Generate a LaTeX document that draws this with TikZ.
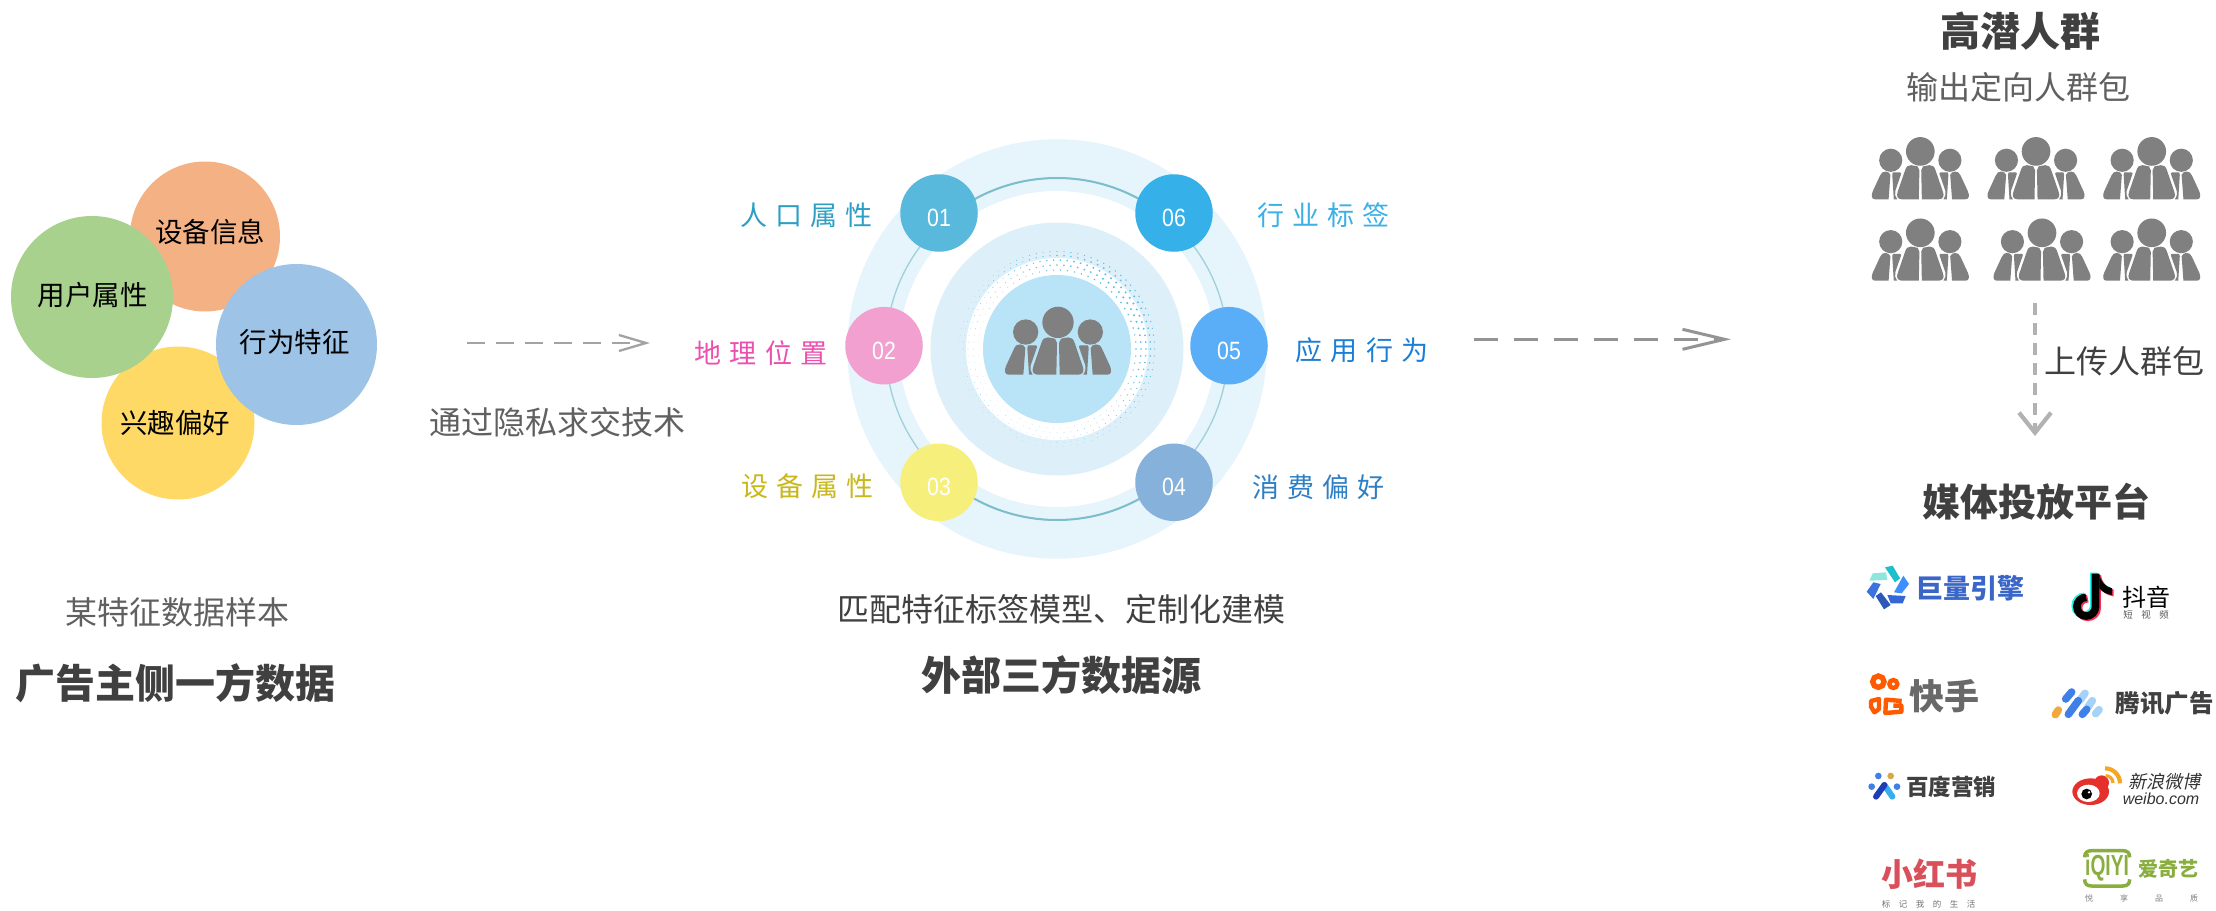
\documentclass[tikz,border=0pt]{standalone}
\usepackage{fontspec}
\usetikzlibrary{arrows.meta}
\setmainfont{Noto Sans CJK SC}
\newfontfamily\lsf[LetterSpace=30]{Noto Sans CJK SC}
\newfontfamily\numf{Liberation Sans}
\newfontfamily\cjkit[FakeSlant=0.22]{Noto Sans CJK SC}
\newcommand{\fsz}[1]{\fontsize{#1}{#1}\selectfont}
\definecolor{txtgray}{HTML}{606060}
\definecolor{txtdark}{HTML}{404040}
\definecolor{ppl}{HTML}{808080}
\definecolor{iqgreen}{HTML}{8AAE3E}
\definecolor{tcblue}{HTML}{3F7FE8}
\definecolor{tclight}{HTML}{A5D2F9}
\definecolor{ksorange}{HTML}{FF5A00}
\tikzset{
  bub/.style={circle,inner sep=0pt,minimum size=#1},
  lbl/.style={inner sep=0pt,text=black,font=\fsz{27.5}},
  subt/.style={inner sep=0pt,text=txtgray,font=\fsz{32}},
  headt/.style={inner sep=0pt,text=txtdark,font=\fsz{40}\bfseries},
  ringl/.style={inner sep=0pt,text=#1,font=\lsf\fsz{27}},
  numdisc/.style={circle,inner sep=0pt,minimum size=77.5pt,fill=#1},
  numt/.style={inner sep=0pt,text=white,font=\numf\fsz{25}},
  flow/.style={line width=#1},
  zoomat/.style 2 args={shift={(#1,#2)},x=0.3333pt,y=-0.3333pt},
  people/.pic={
    \fill[ppl] (0,-157) circle (47);
    \foreach \m in {1,-1}{
      \begin{scope}[xscale=\m]
      \fill[ppl] (97,-128) circle (38);
      \fill[ppl] (5,0) -- (60,0) .. controls (74,0) and (80,-10) .. (74,-25) -- (50,-95) .. controls (46,-108) and (40,-112) .. (30,-112) -- (9,-108) -- (3,-95) -- cycle;
      \fill[ppl] (104,0) -- (148,0) .. controls (160,0) and (162,-12) .. (156,-26) -- (132,-78) .. controls (128,-88) and (122,-91) .. (114,-91) -- (104,-88) -- (98,-80) -- cycle;
      \fill[ppl] (90,-88) -- (66,-88) .. controls (62,-86) and (62,-84) .. (64,-80) -- (82,-28) .. controls (85,-18) and (82,-8) .. (76,0) -- (87,0) -- (92,-80) -- cycle;
      \end{scope}
    }
  }
}
\begin{document}
\begin{tikzpicture}[x=1pt,y=-1pt]
\useasboundingbox (0,0) rectangle (2216,910);
\fill[white] (0,0) rectangle (2216,910);

% left cluster
\node[bub=150pt,fill={rgb,255:red,244;green,177;blue,131}] (dev) at (205,236.5) {};
\node[bub=153pt,fill={rgb,255:red,255;green,217;blue,102}] (int) at (178,423) {};
\node[bub=162pt,fill={rgb,255:red,169;green,209;blue,142}] (usr) at (92,297) {};
\node[bub=161pt,fill={rgb,255:red,157;green,195;blue,230}] (beh) at (296.5,344.5) {};
\node[lbl] (tdev) at (210,232) {设备信息};
\node[lbl] (tusr) at (92.6,294.6) {用户属性};
\node[lbl] (tbeh) at (294.6,342) {行为特征};
\node[lbl] (tint) at (175.4,423) {兴趣偏好};
\node[subt] (sample) at (177,612) {某特征数据样本};
\node[headt] (first) at (175,683) {广告主侧一方数据};
\node[subt] (psi) at (557,422) {通过隐私求交技术};

% arrows
\coordinate (a1s) at (467,343); \coordinate (a1e) at (650,343);
\draw[flow=2.3pt,draw=black!36,dash pattern=on 18pt off 11pt,-{Straight Barb[length=27pt,width=16pt]}] (a1s) -- (a1e);
\coordinate (a2s) at (1474,339.3); \coordinate (a2e) at (1731,339.3);
\draw[flow=3pt,draw=black!42,dash pattern=on 24pt off 16pt,-{Straight Barb[length=42pt,width=20pt]}] (a2s) -- (a2e);
\coordinate (a3s) at (2035,303); \coordinate (a3e) at (2035,436);
\draw[flow=4.2pt,draw=black!30,dash pattern=on 12pt off 8pt,-{Straight Barb[length=20pt,width=32pt]}] (a3s) -- (a3e);

% central rings
\coordinate (hub) at (1057,349);
\fill[fill={rgb,255:red,230;green,244;blue,251}] (hub) circle (209.7);
\draw[line width=1.3pt,draw={rgb,255:red,160;green,208;blue,218}] (hub) circle (171);
\draw[line width=2pt,draw={rgb,255:red,125;green,190;blue,205}] (hub) ++(235:171) arc (235:305:171);
\draw[line width=2pt,draw={rgb,255:red,125;green,190;blue,205}] (hub) ++(55:171) arc (55:125:171);
\fill[white] (hub) circle (158);
\fill[fill={rgb,255:red,221;green,240;blue,249}] (hub) circle (126.5);
\fill[white] (hub) circle (91);
\foreach \rad/\cnt/\fac in {79/70/0.8,84/76/1,89/82/1,93.5/84/0.9,97.5/88/0.7}{
  \foreach \k in {1,...,\cnt}{
    \pgfmathsetmacro\ang{\k/\cnt*360}
    \pgfmathsetmacro\wt{0.5+0.5*cos(\ang+40)}
    \pgfmathsetmacro\rr{\fac*(0.3+0.85*\wt*\wt)}
    \fill[fill={rgb,255:red,95;green,190;blue,228}] ([shift={(\ang:\rad)}]hub) circle (\rr);
  }
}
\fill[fill={rgb,255:red,185;green,227;blue,247}] (hub) circle (74);
\pic (mainppl) at (1058,374.7) [scale=0.3333] {people};

\foreach \id/\px/\py/\cc in {01/939/213/58B9DC,06/1174/213/36B0E8,02/884/345.7/F2A0D0,05/1229/345.7/5AAEF7,03/939/482.3/F7EF7B,04/1174/482.3/85B1DA}{
  \definecolor{cur}{HTML}{\cc}
  \node[numdisc=cur] (n\id) at (\px,\py) {};
  \node[numt] (t\id) at ([yshift=-5pt]n\id.center) {\scalebox{.85}[1]{\id}};
}
\definecolor{c1}{HTML}{2E9FC4}\definecolor{c2}{HTML}{EC4FAE}\definecolor{c3}{HTML}{C9B81C}
\definecolor{c4}{HTML}{2F7FC4}\definecolor{c5}{HTML}{1C7FD6}\definecolor{c6}{HTML}{3AB0E6}
\node[ringl=c1] (l1) at (806.5,215) {人口属性};
\node[ringl=c6] (l6) at (1323.5,215) {行业标签};
\node[ringl=c2] (l2) at (761,353) {地理位置};
\node[ringl=c5] (l5) at (1362,350) {应用行为};
\node[ringl=c3] (l3) at (807.5,486) {设备属性};
\node[ringl=c4] (l4) at (1318.5,487) {消费偏好};
\node[inner sep=0pt,text=txtdark,font=\fsz{32}] (model) at (1061,609) {匹配特征标签模型、定制化建模};
\node[headt] (third) at (1061,675) {外部三方数据源};

% right column
\node[headt] (high) at (2020,31) {高潜人群};
\node[subt] (out) at (2018.7,87) {输出定向人群包};
\foreach \nm/\px/\py in {p1/1920.3/199.3,p2/2036/199.3,p3/2151.7/199.3,p4/1920.3/280.7,p5/2042/280.7,p6/2151.7/280.7}{
  \pic (\nm) at (\px,\py) [scale=0.305] {people};
}
\node[inner sep=0pt,text=txtdark,font=\fsz{32}] (upl) at (2124,361) {上传人群包};
\node[inner sep=0pt,text=txtdark,font=\fsz{38}\bfseries] (media) at (2036.6,501.7) {媒体投放平台};

% ocean engine logo
\begin{scope}[zoomat={1860}{560}]
\fill[fill={rgb,255:red,142;green,230;blue,223}] (38,40)--(78,37)--(82,60)--(28,62)--cycle;
\fill[fill={rgb,255:red,28;green,192;blue,204}] (75,22)--(98,17)--(120,55)--(105,67)--cycle;
\fill[fill={rgb,255:red,61;green,143;blue,251}] (130,47)--(147,72)--(125,100)--(102,97)--cycle;
\fill[fill={rgb,255:red,51;green,102;blue,214}] (82,105)--(137,108)--(128,130)--(92,130)--cycle;
\fill[fill={rgb,255:red,45;green,88;blue,184}] (47,108)--(63,97)--(92,135)--(72,148)--cycle;
\fill[fill={rgb,255:red,58;green,114;blue,224}] (40,67)--(62,72)--(40,117)--(20,95)--cycle;
\end{scope}
\node[inner sep=0pt,text={rgb,255:red,58;green,102;blue,200},font=\fsz{27}\bfseries] (juliang) at (1970,588.3) {巨量引擎};

% douyin logo
\begin{scope}[zoomat={2060}{565}]
\foreach \dx/\dy/\cl in {-5/-3/{rgb,255:red,37;green,244;blue,238},5/4/{rgb,255:red,254;green,44;blue,85},0/0/black}{
  \begin{scope}[shift={(\dx*0.3333pt,-\dy*0.3333pt)}]
  \draw[line width=7.6pt,draw={\cl}] (106.5,26) -- (106.5,125) arc (0:270:28);
  \fill[fill={\cl}] (118,26) .. controls (121,50) and (136,65) .. (156,70) -- (156,90) .. controls (140,88) and (126,80) .. (118,70) -- cycle;
  \end{scope}
}
\end{scope}
\node[inner sep=0pt,text=black,font=\fsz{24}] (douyin) at (2146.7,597) {抖音};
\node[inner sep=0pt,text=black!65,font=\fsz{9.5}] (dysub) at (2146,615) {短\hspace{8.5pt}视\hspace{8.5pt}频};

% kuaishou logo
\begin{scope}[zoomat={1860}{665}]
\draw[line width=5.4pt,ksorange] (55,50) circle (17);
\draw[line width=4.4pt,ksorange] (100,57) circle (12);
\draw[line width=4.4pt,line join=round,ksorange] (33,108)--(57,102)--(57,132)--(43,142)--(33,125)--cycle;
\draw[line width=4.4pt,line join=round,ksorange] (125,108)--(78,104)--(76,144)--(124,140)--(124,122)--(100,122);
\end{scope}
\node[inner sep=0pt,text={rgb,255:red,105;green,105;blue,105},font=\fsz{35}\bfseries] (ks) at (1944,696.7) {快手};

% tencent logo
\begin{scope}[zoomat={2045}{680},line cap=round,line width=7.6pt]
\draw[draw={rgb,255:red,242;green,169;blue,59}] (31,104)--(40,90);
\draw[tclight] (105,60)--(120,40);
\draw[tclight] (128,82)--(142,62);
\draw[tclight] (152,101)--(162,89);
\draw[tcblue] (62,57)--(80,36);
\draw[tcblue] (70,103)--(100,62);
\draw[tcblue] (112,103)--(125,88);
\end{scope}
\node[inner sep=0pt,text=txtdark,font=\fsz{24.5}\bfseries] (tx) at (2164.5,703) {腾讯广告};

% baidu logo
\begin{scope}[zoomat={1840}{550}]
\fill[tcblue] (115,678) circle (10);
\fill[fill={rgb,255:red,217;green,166;blue,74}] (152,678) circle (10);
\fill[tcblue] (95,710) circle (10);
\fill[tcblue] (171,710) circle (10);
\draw[line width=6pt,line cap=round,draw={rgb,255:red,53;green,174;blue,240}] (133,705)--(157,740);
\draw[line width=6pt,line cap=round,draw={rgb,255:red,28;green,61;blue,181}] (133,705)--(108,740);
\end{scope}
\node[inner sep=0pt,text=txtdark,font=\fsz{22.5}\bfseries] (bd) at (1951,786.7) {百度营销};

% weibo logo
\begin{scope}[zoomat={2060}{760}]
\fill[fill={rgb,255:red,230;green,48;blue,44}] (92,95) ellipse (55 and 40);
\fill[fill={rgb,255:red,230;green,48;blue,44}] (125,68) circle (22);
\fill[white] (85,100) ellipse (34 and 26);
\fill[black] (80,102) circle (16);
\fill[white] (87,97) circle (4);
\draw[line width=4.2pt,draw={rgb,255:red,245;green,166;blue,35}] (135,25) arc (270:360:45);
\draw[line width=3.2pt,draw={rgb,255:red,245;green,166;blue,35}] (137,47) arc (270:360:22);
\end{scope}
\node[inner sep=0pt,text=black!80,font=\cjkit\fsz{18}] (wb) at (2164.5,782) {新浪微博};
\node[inner sep=0pt,text=black!80,font=\numf\itshape\fsz{16}] (wbc) at (2161,799) {weibo.com};

% xiaohongshu logo
\node[inner sep=0pt,text={rgb,255:red,217;green,80;blue,90},font=\fsz{32}\bfseries] (xhs) at (1929.5,874) {小红书};
\node[inner sep=0pt,text=black!55,font=\fsz{8.5}] (xhss) at (1928.7,904) {标\hspace{8.5pt}记\hspace{8.5pt}我\hspace{8.5pt}的\hspace{8.5pt}生\hspace{8.5pt}活};

% iqiyi logo
\begin{scope}[zoomat={2075}{840}]
\draw[line width=3.5pt,iqgreen] (29,52) .. controls (29,38) and (36,32) .. (50,32) -- (143,32) .. controls (157,32) and (164,38) .. (164,52);
\draw[line width=3.5pt,iqgreen] (29,118) .. controls (29,132) and (36,138) .. (50,138) -- (143,138) .. controls (157,138) and (164,132) .. (164,118);
\end{scope}
\node[inner sep=0pt,text=iqgreen,font=\numf\bfseries\fsz{29}] (iq) at (2107,868) {\scalebox{.66}[1]{iQIYI}};
\node[inner sep=0pt,text=iqgreen,font=\fsz{20}\bfseries] (aqy) at (2168,869) {爱奇艺};
\node[inner sep=0pt,text=black!50,font=\fsz{8}] (aqys) at (2141.5,898) {悦\hspace{27pt}享\hspace{27pt}品\hspace{27pt}质};
\end{tikzpicture}
\end{document}
